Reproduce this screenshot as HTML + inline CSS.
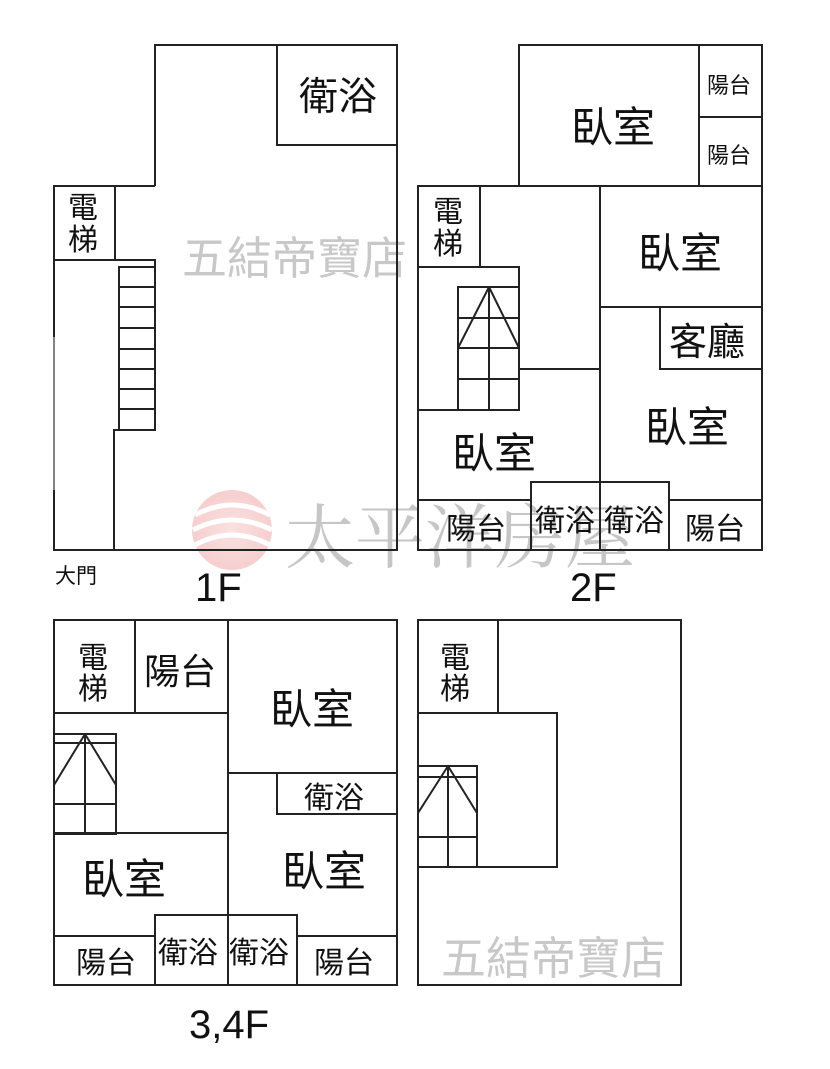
<!DOCTYPE html>
<html><head><meta charset="utf-8"><style>
html,body{margin:0;padding:0;background:#fff;}
svg{display:block;}
text{font-family:"Liberation Sans","Noto Sans CJK TC",sans-serif;fill:#111;}
.wm{fill:#c8c8c8;}
</style></head><body>
<svg width="830" height="1069" viewBox="0 0 830 1069" xmlns="http://www.w3.org/2000/svg">
<defs><radialGradient id="g" cx="0.5" cy="0.5" r="0.5"><stop offset="0" stop-color="#f6c9c9"/><stop offset="1" stop-color="#f0a8a8"/></radialGradient></defs>
<g opacity="0.55">
<circle cx="232" cy="530" r="40" fill="url(#g)"/>
<path d="M195 515 Q232 495 270 515 M193 530 Q232 510 272 530 M195 545 Q232 525 270 545" stroke="#fff" stroke-width="5" fill="none"/>
</g>
<text x="285" y="562" class="wm" style="font-family:'Noto Serif CJK SC','Liberation Serif',serif;font-size:70px;fill:#b8b8b8;opacity:0.8">太平洋房屋</text>
<text x="182" y="274" class="wm" style="font-size:45px">五結帝寶店</text>
<text x="441" y="974" class="wm" style="font-size:45px">五結帝寶店</text>

<g stroke="#222" stroke-width="2" fill="none">
<polyline points="155,186 155,45 397,45 397,550 54,550 54,186 155,186"/>
<rect x="277" y="45" width="120" height="100"/>
<rect x="54" y="186" width="61" height="74"/>
<polyline points="54,260 155,260 155,430 114,430 114,550"/>
<polyline points="119,430 119,267 155,267"/>
<path d="M119 287H155M119 307H155M119 328H155M119 349H155M119 369H155M119 389H155M119 409H155"/>
<rect x="519" y="45" width="243" height="141"/>
<path d="M699 45V186M699 117H762"/>
<rect x="418" y="186" width="344" height="364"/>
<rect x="418" y="186" width="62" height="81"/>
<polyline points="418,267 519,267 519,410 418,410"/>
<path d="M519 369H600M600 186V550M600 307H762"/>
<polyline points="660,307 660,369 762,369"/>
<rect x="458" y="287" width="61" height="123"/>
<path d="M489 287V410M458 318H519M458 348H519M458 379H519M489 287L458 348M489 287L519 348"/>
<polyline points="418,500 531,500"/>
<polyline points="531,550 531,482 669,482 669,550"/>
<path d="M669 500H762"/>
<rect x="54" y="620" width="343" height="365"/>
<path d="M135 620V713M54 713H228M228 620V985M228 773H397M54 833H228"/>
<polyline points="277,773 277,814 397,814"/>
<rect x="54" y="734" width="62" height="100"/>
<path d="M85 734V834M54 743H116M54 804H116M85 734L54 785M85 734L116 785"/>
<path d="M54 936H155M297 936H397"/>
<polyline points="155,985 155,915 297,915 297,985"/>
<rect x="418" y="620" width="263" height="365"/>
<polyline points="498,620 498,713 418,713"/>
<polyline points="498,713 557,713 557,867 418,867"/>
<rect x="418" y="766" width="59" height="101"/>
<path d="M448 766V867M418 777H477M418 837H477M448 766L418 813M448 766L477 813"/>
</g>
<g stroke="#fff" stroke-width="1.5"><path d="M54 337V490"/></g>
<g stroke="#777" stroke-width="1"><path d="M54 337V490"/></g>

<g style="font-size:42px">
<text x="571" y="142">臥室</text>
<text x="638" y="268">臥室</text>
<text x="645" y="442">臥室</text>
<text x="452" y="468">臥室</text>
<text x="270" y="724">臥室</text>
<text x="82" y="894">臥室</text>
<text x="282" y="886">臥室</text>
</g>
<g style="font-size:39px">
<text x="299" y="110">衛浴</text>
</g>
<g style="font-size:38px">
<text x="669" y="355">客廳</text>
</g>
<g style="font-size:36px">
<text x="144" y="684">陽台</text>
</g>
<g style="font-size:30px">
<text x="68" y="218">電</text><text x="68" y="250">梯</text>
<text x="433" y="222">電</text><text x="433" y="254">梯</text>
<text x="78" y="668">電</text><text x="78" y="699">梯</text>
<text x="440" y="668">電</text><text x="440" y="699">梯</text>
<text x="446" y="539">陽台</text>
<text x="535" y="531">衛浴</text>
<text x="604" y="531">衛浴</text>
<text x="685" y="539">陽台</text>
<text x="304" y="808">衛浴</text>
<text x="76" y="973">陽台</text>
<text x="158" y="963">衛浴</text>
<text x="229" y="963">衛浴</text>
<text x="314" y="973">陽台</text>
</g>
<g style="font-size:22px">
<text x="707" y="93">陽台</text>
<text x="707" y="163">陽台</text>
</g>
<text x="55" y="583" style="font-size:21px">大門</text>
<g style="font-size:40px">
<text x="195" y="601">1F</text>
<text x="570" y="601">2F</text>
<text x="189" y="1038">3,4F</text>
</g>
</svg>
</body></html>
